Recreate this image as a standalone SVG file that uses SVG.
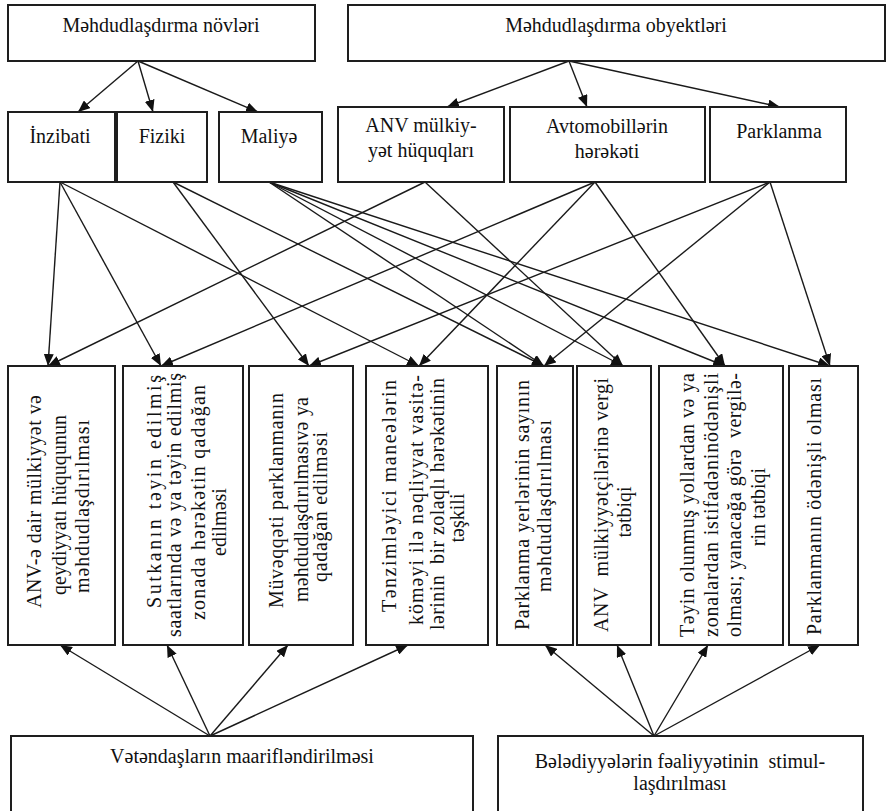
<svg xmlns="http://www.w3.org/2000/svg" width="888" height="811" viewBox="0 0 888 811" xml:space="preserve">
  <style>
    .box { fill: #ffffff; stroke: #1e1e1e; stroke-width: 2; }
    .t { font-family: "Liberation Serif", "DejaVu Serif", "Times New Roman", serif; font-size: 20px; fill: #111111; white-space: pre; }
    .c { text-anchor: middle; }
    .edge { stroke: #1a1a1a; stroke-width: 1.4; fill: none; marker-end: url(#arrow); }
  </style>
  <defs>
    <marker id="arrow" viewBox="0 0 12 10" refX="12" refY="5" markerWidth="12" markerHeight="10" markerUnits="userSpaceOnUse" orient="auto">
      <path d="M0,0 L12,5 L0,10 z" fill="#111111"/>
    </marker>
  </defs>
  <rect width="888" height="811" fill="#ffffff"/>

  <!-- connectors -->
  <g id="connectors">
    <!-- groups to kinds / objects -->
    <line class="edge" x1="138" y1="61" x2="78" y2="112"/>
    <line class="edge" x1="138" y1="61" x2="153" y2="112"/>
    <line class="edge" x1="138" y1="61" x2="258" y2="112"/>
    <line class="edge" x1="569" y1="61" x2="447" y2="107"/>
    <line class="edge" x1="569" y1="61" x2="587" y2="107"/>
    <line class="edge" x1="569" y1="61" x2="780" y2="107"/>
    <!-- kinds / objects to measures -->
    <line class="edge" x1="60" y1="182" x2="48" y2="366"/>
    <line class="edge" x1="60" y1="182" x2="161" y2="366"/>
    <line class="edge" x1="60" y1="182" x2="419" y2="366"/>
    <line class="edge" x1="173" y1="182" x2="309" y2="366"/>
    <line class="edge" x1="173" y1="182" x2="544" y2="366"/>
    <line class="edge" x1="269" y1="182" x2="544" y2="366"/>
    <line class="edge" x1="269" y1="182" x2="623" y2="366"/>
    <line class="edge" x1="269" y1="182" x2="725" y2="366"/>
    <line class="edge" x1="269" y1="182" x2="830" y2="366"/>
    <line class="edge" x1="425" y1="182" x2="48" y2="366"/>
    <line class="edge" x1="425" y1="182" x2="623" y2="366"/>
    <line class="edge" x1="595" y1="182" x2="161" y2="366"/>
    <line class="edge" x1="595" y1="182" x2="419" y2="366"/>
    <line class="edge" x1="595" y1="182" x2="725" y2="366"/>
    <line class="edge" x1="770" y1="182" x2="309" y2="366"/>
    <line class="edge" x1="770" y1="182" x2="544" y2="366"/>
    <line class="edge" x1="770" y1="182" x2="830" y2="366"/>
    <!-- supporting activities to measures -->
    <line class="edge" x1="210" y1="736" x2="60" y2="645"/>
    <line class="edge" x1="210" y1="736" x2="167" y2="645"/>
    <line class="edge" x1="210" y1="736" x2="288" y2="645"/>
    <line class="edge" x1="210" y1="736" x2="408" y2="645"/>
    <line class="edge" x1="654" y1="736" x2="545" y2="645"/>
    <line class="edge" x1="654" y1="736" x2="617" y2="645"/>
    <line class="edge" x1="654" y1="736" x2="708" y2="645"/>
    <line class="edge" x1="654" y1="736" x2="820" y2="645"/>
  </g>

  <!-- top level -->
  <g id="n-kinds">
    <rect class="box" x="8" y="5" width="307" height="56"/>
    <text class="t c" x="161" y="32">Məhdudlaşdırma növləri</text>
  </g>
  <g id="n-objects">
    <rect class="box" x="348" y="5" width="537" height="56"/>
    <text class="t c" x="616" y="32">Məhdudlaşdırma obyektləri</text>
  </g>

  <!-- second level -->
  <g id="n-inzibati">
    <rect class="box" x="8" y="112" width="107" height="70"/>
    <text class="t c" x="60" y="143">İnzibati</text>
  </g>
  <g id="n-fiziki">
    <rect class="box" x="117" y="112" width="90" height="70"/>
    <text class="t c" x="162" y="143">Fiziki</text>
  </g>
  <g id="n-maliye">
    <rect class="box" x="219" y="112" width="103" height="70"/>
    <text class="t c" x="269" y="143">Maliyə</text>
  </g>
  <g id="n-anv">
    <rect class="box" x="338" y="107" width="166" height="75"/>
    <text class="t c" x="421" y="132">ANV mülkiy-</text>
    <text class="t c" x="421" y="157">yət hüquqları</text>
  </g>
  <g id="n-avto">
    <rect class="box" x="510" y="107" width="195" height="75"/>
    <text class="t c" x="607" y="133">Avtomobillərin</text>
    <text class="t c" x="607" y="158">hərəkəti</text>
  </g>
  <g id="n-park">
    <rect class="box" x="710" y="107" width="136" height="75"/>
    <text class="t c" x="779" y="138">Parklanma</text>
  </g>

  <!-- measures (vertical labels read bottom to top) -->
  <g id="m-a">
    <rect class="box" x="8" y="366" width="107" height="279"/>
    <text class="t" transform="translate(41,608) rotate(-90)" textLength="213" lengthAdjust="spacing">ANV-ə dair mülkiyyət və</text>
    <text class="t" transform="translate(66,595) rotate(-90)" textLength="180" lengthAdjust="spacing">qeydiyyatı hüququnun</text>
    <text class="t" transform="translate(89,593) rotate(-90)" textLength="173" lengthAdjust="spacing">məhdudlaşdırılması</text>
  </g>
  <g id="m-b">
    <rect class="box" x="123" y="366" width="120" height="279"/>
    <text class="t" transform="translate(161,608) rotate(-90)" textLength="233" lengthAdjust="spacing">Sutkanın təyin edilmiş</text>
    <text class="t" transform="translate(181,637) rotate(-90)" textLength="264" lengthAdjust="spacing">saatlarında və ya təyin edilmiş</text>
    <text class="t" transform="translate(205,620) rotate(-90)" textLength="235" lengthAdjust="spacing">zonada hərəkətin qadağan</text>
    <text class="t c" transform="translate(226,522) rotate(-90)">edilməsi</text>
  </g>
  <g id="m-c">
    <rect class="box" x="249" y="366" width="104" height="279"/>
    <text class="t" transform="translate(283,608) rotate(-90)" textLength="215" lengthAdjust="spacing">Müvəqqəti parklanmanın</text>
    <text class="t" transform="translate(308,602) rotate(-90)" textLength="205" lengthAdjust="spacing">məhdudlaşdırılmasıvə ya</text>
    <text class="t" transform="translate(327,582) rotate(-90)" textLength="150" lengthAdjust="spacing">qadağan edilməsi</text>
  </g>
  <g id="m-d">
    <rect class="box" x="366" y="366" width="122" height="279"/>
    <text class="t" transform="translate(396,612) rotate(-90)" textLength="232" lengthAdjust="spacing">Tənzimləyici maneələrin</text>
    <text class="t" transform="translate(423,625) rotate(-90)" textLength="250" lengthAdjust="spacing">köməyi ilə nəqliyyat vasitə-</text>
    <text class="t" transform="translate(444,630) rotate(-90)" textLength="252" lengthAdjust="spacing">lərinin  bir zolaqlı hərəkətinin</text>
    <text class="t c" transform="translate(464,518) rotate(-90)">təşkili</text>
  </g>
  <g id="m-e">
    <rect class="box" x="497" y="366" width="76" height="279"/>
    <text class="t" transform="translate(529,630) rotate(-90)" textLength="250" lengthAdjust="spacing">Parklanma yerlərinin sayının</text>
    <text class="t" transform="translate(551,592) rotate(-90)" textLength="172" lengthAdjust="spacing">məhdudlaşdırılması</text>
  </g>
  <g id="m-f">
    <rect class="box" x="577" y="366" width="74" height="279"/>
    <text class="t" transform="translate(608,632) rotate(-90)" textLength="254" lengthAdjust="spacing">ANV  mülkiyyətçilərinə vergi</text>
    <text class="t c" transform="translate(631,512) rotate(-90)">tətbiqi</text>
  </g>
  <g id="m-g">
    <rect class="box" x="659" y="366" width="124" height="279"/>
    <text class="t" transform="translate(694,637) rotate(-90)" textLength="264" lengthAdjust="spacing">Təyin olunmuş yollardan və ya</text>
    <text class="t" transform="translate(718,637) rotate(-90)" textLength="264" lengthAdjust="spacing">zonalardan istifadəninödənişli</text>
    <text class="t" transform="translate(741,637) rotate(-90)" textLength="264" lengthAdjust="spacing">olması; yanacağa görə  vergilə-</text>
    <text class="t c" transform="translate(765,507) rotate(-90)">rin tətbiqi</text>
  </g>
  <g id="m-h">
    <rect class="box" x="789" y="366" width="69" height="279"/>
    <text class="t" transform="translate(821,635) rotate(-90)" textLength="257" lengthAdjust="spacing">Parklanmanın ödənişli olması</text>
  </g>

  <!-- supporting activities -->
  <g id="n-vetendas">
    <rect class="box" x="11" y="736" width="462" height="80"/>
    <text class="t c" x="242" y="763">Vətəndaşların maarifləndirilməsi</text>
  </g>
  <g id="n-beledi">
    <rect class="box" x="498" y="736" width="365" height="80"/>
    <text class="t c" x="680" y="768">Bələdiyyələrin fəaliyyətinin  stimul-</text>
    <text class="t c" x="680" y="790">laşdırılması</text>
  </g>
</svg>
